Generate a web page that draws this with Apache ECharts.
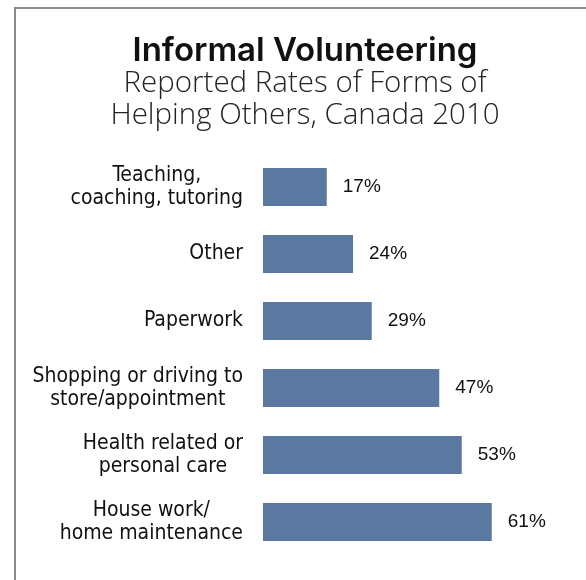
<!DOCTYPE html>
<html>
<head>
<meta charset="utf-8">
<script src="https://cdn.jsdelivr.net/npm/echarts@6/dist/echarts.min.js"></script>
<style>
  html, body { margin: 0; padding: 0; background: #ffffff; }
  #chart { width: 586px; height: 580px; }
</style>
</head>
<body>
<div id="chart"></div>
<script>
// Forms of informal help, listed top to bottom
const categories = [
  'Teaching,\ncoaching, tutoring',
  'Other',
  'Paperwork',
  'Shopping or driving to\nstore/appointment',
  'Health related or\npersonal care',
  'House work/\nhome maintenance'
];
// Share of Canadians reporting each form (%)
const rates = [17, 24, 29, 47, 53, 61];

const titleText = 'Informal Volunteering';
const subtitleLines = ['Reported Rates of Forms of', 'Helping Others, Canada 2010'];

const chart = echarts.init(document.getElementById('chart'), null, { renderer: 'canvas' });

// heading block: bold title over two light subtitle lines, centred on x = 305
const heading = [
  {
    type: 'text',
    style: {
      text: titleText,
      x: 305, y: 51,
      align: 'center', verticalAlign: 'middle',
      fontFamily: 'Inter, Lato, "Liberation Sans", sans-serif',
      fontWeight: 600,
      fontSize: 33,
      fill: '#111111'
    }
  }
].concat(subtitleLines.map((line, i) => ({
  type: 'text',
  style: {
    text: line,
    x: 305, y: 84 + i * 31.5,
    align: 'center', verticalAlign: 'middle',
    fontFamily: '"Open Sans", Lato, sans-serif',
    fontWeight: 300,
    fontSize: 29.5,
    fill: '#222222'
  }
})));

chart.setOption({
  backgroundColor: '#ffffff',
  animation: false,
  graphic: [
    {
      type: 'polyline',
      shape: { points: [[15, 580], [15, 8], [586, 8]] },
      style: { stroke: '#8c8c8c', lineWidth: 2, fill: null },
      silent: true
    }
  ].concat(heading),
  grid: { left: 263, top: 153.5, width: 300, height: 402, containLabel: false },
  xAxis: {
    type: 'value',
    min: 0,
    max: 80,
    show: false
  },
  yAxis: {
    type: 'category',
    data: categories,
    inverse: true,
    axisLine: { show: false },
    axisTick: { show: false },
    splitLine: { show: false },
    axisLabel: {
      margin: 20,
      align: 'right',
      // each line centred within its own label block
      formatter: v => v.split('\n').map(s => '{c|' + s + '}').join('\n'),
      rich: {
        c: {
          align: 'center',
          color: '#111111',
          fontFamily: '"DejaVu Sans Condensed", Tahoma, "DejaVu Sans", sans-serif',
          fontSize: 21,
          lineHeight: 23
        }
      }
    }
  },
  series: [{
    type: 'bar',
    data: rates,
    barWidth: 38,
    itemStyle: { color: '#5b78a0' },
    label: {
      show: true,
      position: 'right',
      distance: 16,
      formatter: p => p.value + '%',
      color: '#111111',
      fontFamily: '"Liberation Sans", Arial, sans-serif',
      fontSize: 19
    }
  }]
});
</script>
</body>
</html>
